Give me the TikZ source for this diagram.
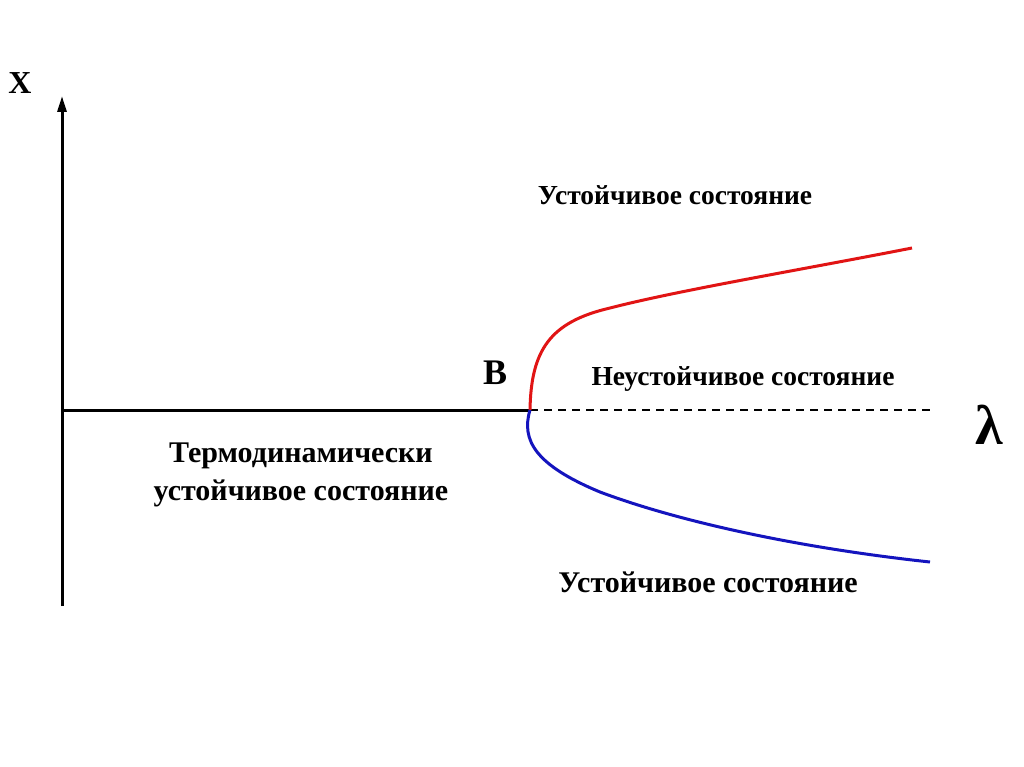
\documentclass[tikz,border=0pt]{standalone}
\usepackage{fontspec}
\setmainfont{Liberation Serif}
\usetikzlibrary{arrows.meta}
\definecolor{bred}{RGB}{225,20,20}
\definecolor{bblue}{RGB}{20,20,190}
\begin{document}
\begin{tikzpicture}[x=1pt,y=-1pt,
  lbl/.style={font=\bfseries\fontsize{27.5}{30}\selectfont, inner sep=0pt, align=center},
  biglbl/.style={font=\bfseries\fontsize{30}{38}\selectfont, inner sep=0pt, align=center},
  axis/.style={line width=3pt, black},
  curve/.style={line width=3pt}]
\useasboundingbox[fill=white] (0,0) rectangle (1024,767);
\coordinate (o) at (62,410);
\coordinate (ytop) at (62,96);
\coordinate (ybot) at (62,606);
\coordinate (bp) at (530,410);
\coordinate (dend) at (932,410);
\coordinate (rmid) at (610,308);
\coordinate (rend) at (912,248);
\coordinate (bmid) at (600,492);
\coordinate (bend) at (930,562);
% axes
\draw[axis, -{Triangle[length=16pt,width=9pt]}] (ybot) -- (ytop);
\draw[axis] (o) -- (bp);
\draw[line width=2pt, dash pattern=on 8pt off 6pt] (bp) -- (dend);
% branches
\draw[curve, bred] (bp) .. controls (531,350) and (550,322) .. (rmid)
  .. controls (680,290) and (800,270) .. (rend);
\draw[curve, bblue] (bp) .. controls (521,440) and (535,465) .. (bmid)
  .. controls (680,522) and (800,548) .. (bend);
% labels
\node[font=\bfseries\fontsize{32}{32}\selectfont, inner sep=0pt] (xl) at (20,83) {X};
\node[font=\bfseries\fontsize{36}{36}\selectfont, inner sep=0pt] (bl) at (495,373) {B};
\node[font=\bfseries\fontsize{56}{56}\selectfont, inner sep=0pt] (lam) at (989,425) {λ};
\node[lbl] (st1) at (675,195) {Устойчивое состояние};
\node[lbl] (ust) at (743,379) {Неустойчивое состояние};
\node[biglbl] (term) at (301,475) {Термодинамически\\устойчивое состояние};
\node[biglbl] (st2) at (708,582) {Устойчивое состояние};
\end{tikzpicture}
\end{document}
